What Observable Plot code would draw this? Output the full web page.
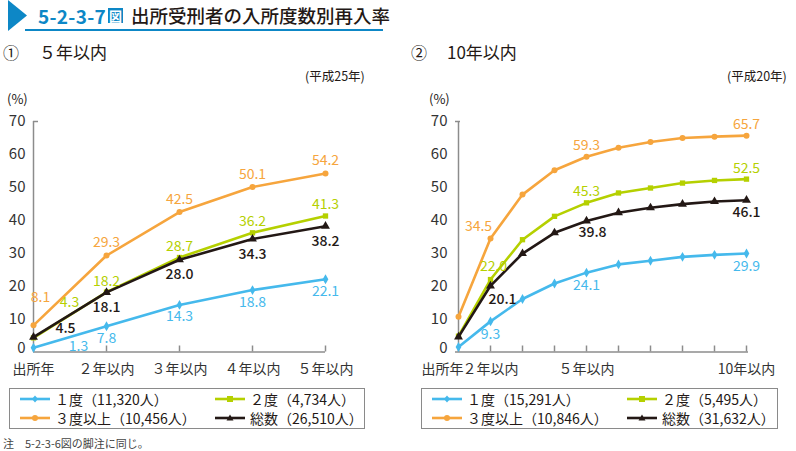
<!DOCTYPE html>
<html><head><meta charset="utf-8">
<script src="https://cdn.jsdelivr.net/npm/d3@7"></script>
<script src="https://cdn.jsdelivr.net/npm/@observablehq/plot@0.6"></script>
<style>
body{margin:0;width:796px;height:451px;position:relative;background:#fff;font-family:"Noto Sans CJK JP","Noto Sans",sans-serif;color:#231815;overflow:hidden}
.abs{position:absolute;white-space:nowrap}
.legend{position:absolute;border:1px solid #8a8a8a;box-sizing:border-box;height:41px;top:388px}
.li{position:absolute;display:flex;align-items:center;font-size:14px;line-height:16px;color:#231815}
.li svg{margin-right:5px}
</style></head><body>
<div class="abs" style="left:0;top:0"><svg width="30" height="32"><polygon points="8,0 27,15.5 8,31" fill="#0d87c6"/></svg></div>
<div class="abs" style="left:25px;top:28.5px;width:358px;height:2px;background:#0d87c6"></div>
<div class="abs" style="left:38px;top:2px;font-size:19px;font-weight:700;color:#0d87c6;letter-spacing:0.3px">5-2-3-7<span style="display:inline-block;background:#0d87c6;color:#fff;font-size:13px;line-height:15px;padding:0 1px;margin-left:2px;vertical-align:3px">図</span></div>
<div class="abs" style="left:131px;top:2px;font-size:18.5px;font-weight:500;color:#231815">出所受刑者の入所度数別再入率</div>

<div class="abs" style="left:3px;top:40px;font-size:16px">①</div>
<div class="abs" style="left:39px;top:39px;font-size:17px">５年以内</div>
<div class="abs" style="left:305px;top:66px;font-size:12.5px">(平成25年)</div>
<div class="abs" style="left:411px;top:40px;font-size:16px">②</div>
<div class="abs" style="left:447px;top:39px;font-size:17px">10年以内</div>
<div class="abs" style="left:727px;top:66px;font-size:12.5px">(平成20年)</div>
<div class="abs" style="left:7px;top:91px;font-size:13px;line-height:15px">(%)</div>
<div class="abs" style="left:429px;top:91px;font-size:13px;line-height:15px">(%)</div>

<div id="left" class="abs" style="left:0;top:90px"></div>
<div id="right" class="abs" style="left:420px;top:90px"></div>

<div class="legend" style="left:9px;width:356px" id="legL"></div>
<div class="legend" style="left:421px;width:357px" id="legR"></div>
<div class="abs" style="left:3px;top:435px;font-size:11px;color:#444">注　5-2-3-6図の脚注に同じ。</div>

<script>
// ---- data ----
const seriesNames = ["１度", "２度", "３度以上", "総数"];
const leftCounts = ["11,320", "4,734", "10,456", "26,510"];
const rightCounts = ["15,291", "5,495", "10,846", "31,632"];

const leftCats = ["出所年", "２年以内", "３年以内", "４年以内", "５年以内"];
const leftOnce = [1.3, 7.8, 14.3, 18.8, 22.1];
const leftTwice = [4.3, 18.2, 28.7, 36.2, 41.3];
const leftThreePlus = [8.1, 29.3, 42.5, 50.1, 54.2];
const leftTotal = [4.5, 18.1, 28.0, 34.3, 38.2];

const rightCats = ["出所年", "２年以内", "３年以内", "４年以内", "５年以内", "６年以内", "７年以内", "８年以内", "９年以内", "10年以内"];
const rightTickLabels = ["出所年", "２年以内", "５年以内", "10年以内"];
const rightOnce = [1.5, 9.3, 16.1, 20.8, 24.1, 26.6, 27.7, 28.9, 29.5, 29.9];
const rightTwice = [4.8, 22.0, 34.1, 41.2, 45.3, 48.3, 49.8, 51.3, 52.1, 52.5];
const rightThreePlus = [10.7, 34.5, 47.8, 55.2, 59.3, 62.0, 63.8, 65.0, 65.4, 65.7];
const rightTotal = [4.6, 20.1, 29.9, 36.2, 39.8, 42.3, 43.8, 44.9, 45.7, 46.1];
const rightLabelIdx = [1, 4, 9];
const yTicks = [0, 10, 20, 30, 40, 50, 60, 70];

// ---- styles ----
const colors = ["#45b9ec", "#b5d000", "#f6a53d", "#231815"];
const symbols = ["diamond", "square", "circle", "triangle"];
const FONT = '"Noto Sans CJK JP","Noto Sans",sans-serif';

// label placement (offsets in px), separate from data
const leftPlace = [
  {d: [0, 12], o: {0: [45, -1]}},
  {d: [0, -11], o: {0: [36, -35]}},
  {d: [0, -13], o: {0: [7, -28]}},
  {d: [0, 15], o: {0: [32, -9]}}
];
const rightPlace = [
  {d: [0, 13], o: {}},
  {d: [0, -11], o: {1: [3, -13]}},
  {d: [0, -11], o: {1: [-12, -12]}},
  {d: [0, 12], o: {1: [12, 14], 4: [6, 12]}}
];

function build(cats, series, place, labelIdx, tickLabels, dims) {
  const rows = [];
  series.forEach((vals, s) => vals.forEach((v, i) => rows.push({s, i, cat: cats[i], v})));
  const shown = tickLabels || cats;
  const marks = [
    Plot.ruleY([0], {stroke: "#8c8c8c", strokeWidth: 1.5}),
    Plot.ruleX([cats[0]], {y1: 0, y2: 70, stroke: "#8c8c8c", strokeWidth: 1.5}),
    Plot.axisY({ticks: [70], tickSize: -5, text: null, stroke: "#8c8c8c", strokeWidth: 1.5}),
    Plot.axisY({ticks: yTicks.slice(1), tickSize: 0, tickPadding: 8, fontSize: 15, fill: "#333", tickFormat: d => d}),
    Plot.axisY({ticks: yTicks.slice(0, 1), tickSize: 0, tickPadding: 8, fontSize: 15, fill: "#333", dy: -4, tickFormat: d => d}),
    Plot.axisX({tickSize: -6, text: null, stroke: "#8c8c8c", strokeWidth: 1.5}),
    Plot.axisX({ticks: [cats[0]], tickSize: 0, tickPadding: 12, fontSize: 14, fill: "#333",
      textAnchor: dims.firstEnd ? "end" : "middle", dx: dims.firstEnd ? 5 : 0}),
    Plot.axisX({ticks: shown.slice(1), tickSize: 0, tickPadding: 12, fontSize: 14, fill: "#333"})
  ];
  series.forEach((vals, s) => {
    const data = rows.filter(r => r.s === s);
    marks.push(Plot.line(data, {x: "cat", y: "v", stroke: colors[s], strokeWidth: 2.6}));
    marks.push(Plot.dot(data, {x: "cat", y: "v", symbol: symbols[s], fill: colors[s], stroke: "none", r: s === 3 ? 3.3 : 3}));
  });
  [0, 1, 2, 3].forEach(s => {
    const data = rows.filter(r => r.s === s && (!labelIdx || labelIdx.includes(r.i)));
    const groups = d3.group(data, r => (place[s].o[r.i] || place[s].d).join(","));
    for (const [k, g] of groups) {
      const [dx, dy] = k.split(",").map(Number);
      marks.push(Plot.text(g, {x: "cat", y: "v", text: r => r.v.toFixed(1), dx, dy,
        fill: colors[s], fontSize: 14, fontWeight: s === 3 ? 500 : 400}));
    }
  });
  return Plot.plot({
    width: dims.width, height: 300,
    marginLeft: dims.ml, marginRight: dims.mr, marginTop: 31, marginBottom: 38.5,
    style: {fontFamily: FONT, background: "transparent", overflow: "visible"},
    x: {type: "point", domain: cats, padding: 0, label: null},
    y: {domain: [0, 70], label: null},
    marks
  });
}

document.getElementById("left").append(
  build(leftCats, [leftOnce, leftTwice, leftThreePlus, leftTotal], leftPlace, null, null, {width: 390, ml: 33, mr: 65}));
document.getElementById("right").append(
  build(rightCats, [rightOnce, rightTwice, rightThreePlus, rightTotal], rightPlace, rightLabelIdx, rightTickLabels, {width: 376, ml: 35, mr: 48, firstEnd: true}));

// ---- legends ----
function swatch(s) {
  const w = 30;
  let m = "";
  const c = colors[s], cx = 15, cy = 5;
  if (s === 0) m = `<polygon points="${cx},${cy-3.5} ${cx+3},${cy} ${cx},${cy+3.5} ${cx-3},${cy}" fill="${c}"/>`;
  if (s === 1) m = `<rect x="${cx-3}" y="${cy-3}" width="6" height="6" fill="${c}"/>`;
  if (s === 2) m = `<circle cx="${cx}" cy="${cy}" r="3" fill="${c}"/>`;
  if (s === 3) m = `<polygon points="${cx},${cy-3.5} ${cx+3.5},${cy+2.5} ${cx-3.5},${cy+2.5}" fill="${c}"/>`;
  return `<svg width="${w}" height="10"><line x1="0" x2="${w}" y1="5" y2="5" stroke="${c}" stroke-width="2.6"/>${m}</svg>`;
}
function legend(id, counts, col2) {
  const el = document.getElementById(id);
  const pos = [[10, 2], [col2, 2], [10, 21], [col2, 21]];
  [0, 1, 2, 3].forEach(s => {
    const d = document.createElement("div");
    d.className = "li";
    d.style.left = pos[s][0] + "px";
    d.style.top = pos[s][1] + "px";
    d.innerHTML = swatch(s) + `<span>${seriesNames[s]}（${counts[s]}人）</span>`;
    el.append(d);
  });
}
legend("legL", leftCounts, 205);
legend("legR", rightCounts, 205);
</script>
</body></html>
